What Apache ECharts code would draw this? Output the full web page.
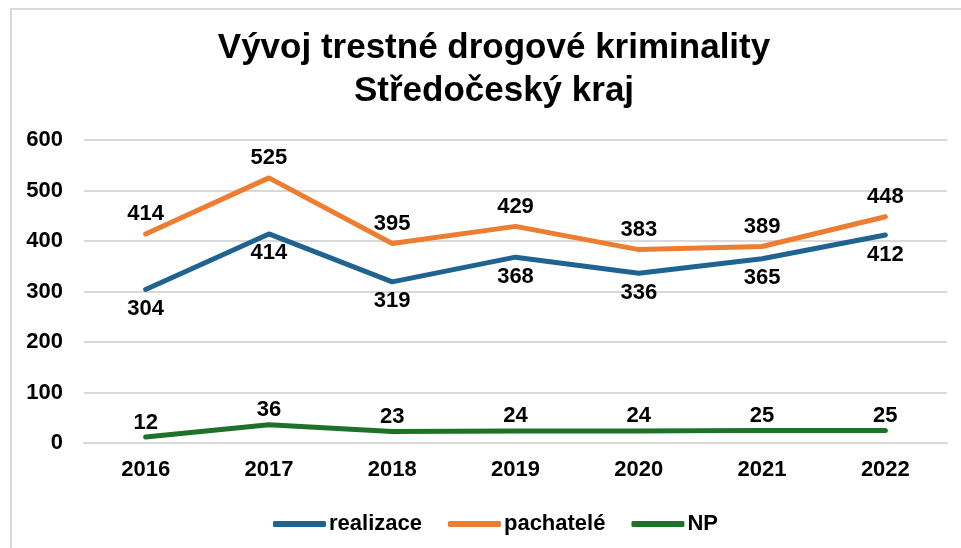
<!DOCTYPE html>
<html>
<head>
<meta charset="utf-8">
<script src="https://cdn.jsdelivr.net/npm/echarts@6/dist/echarts.min.js"></script>
<style>
  html, body { margin: 0; padding: 0; background: #fff; }
  #main { width: 961px; height: 548px; }
</style>
</head>
<body>
<div id="main"></div>
<script>
var years = ['2016', '2017', '2018', '2019', '2020', '2021', '2022'];
var realizace = [304, 414, 319, 368, 336, 365, 412];
var pachatele = [414, 525, 395, 429, 383, 389, 448];
var np = [12, 36, 23, 24, 24, 25, 25];
var yTicks = [0, 600, 100];

var font = "'Liberation Sans', Arial, sans-serif";
var lbl = { show: true, fontSize: 22, fontWeight: 'bold', color: '#000', fontFamily: font };

function line(name, data, color, pos, dist) {
  return {
    name: name,
    type: 'line',
    data: data,
    symbol: 'circle',
    symbolSize: 1,
    showSymbol: true,
    lineStyle: { width: 5, color: color, cap: 'round' },
    itemStyle: { color: color },
    label: Object.assign({}, lbl, { position: pos, distance: dist }),
    z: name === 'pachatelé' ? 3 : 2
  };
}

var option = {
  animation: false,
  backgroundColor: '#fff',
  graphic: [{
    type: 'rect',
    shape: { x: 11, y: 9, width: 980, height: 600 },
    style: { fill: 'none', stroke: '#d9d9d9', lineWidth: 2 },
    silent: true
  }],
  title: {
    text: 'Vývoj trestné drogové kriminality\nStředočeský kraj',
    left: 489,
    top: 22,
    textAlign: 'center',
    textStyle: { fontSize: 35, fontWeight: 'bold', color: '#000', fontFamily: font, lineHeight: 43 }
  },
  legend: {
    left: 268,
    top: 508,
    itemWidth: 53,
    itemHeight: 6,
    itemGap: 26,
    icon: 'roundRect',
    textStyle: { fontSize: 22, fontWeight: 'bold', color: '#000', fontFamily: font, padding: [0, 0, 0, -2] },
    data: ['realizace', 'pachatelé', 'NP']
  },
  grid: { left: 84, right: 14, top: 140, bottom: 105, containLabel: false },
  xAxis: {
    type: 'category',
    data: years,
    boundaryGap: true,
    axisLine: { show: true, lineStyle: { color: '#d9d9d9', width: 2 } },
    axisTick: { show: false },
    axisLabel: { margin: 16, fontSize: 22, fontWeight: 'bold', color: '#000', fontFamily: font }
  },
  yAxis: {
    type: 'value',
    min: yTicks[0],
    max: yTicks[1],
    interval: yTicks[2],
    axisLine: { show: false },
    axisTick: { show: false },
    splitLine: { lineStyle: { color: '#d9d9d9', width: 2 } },
    axisLabel: { margin: 21, fontSize: 22, fontWeight: 'bold', color: '#000', fontFamily: font }
  },
  series: [
    line('realizace', realizace, '#1f6391', 'bottom', 8),
    line('pachatelé', pachatele, '#ed7d31', 'top', 8),
    line('NP', np, '#1e7128', 'top', 3)
  ]
};

echarts.init(document.getElementById('main')).setOption(option);
</script>
</body>
</html>
